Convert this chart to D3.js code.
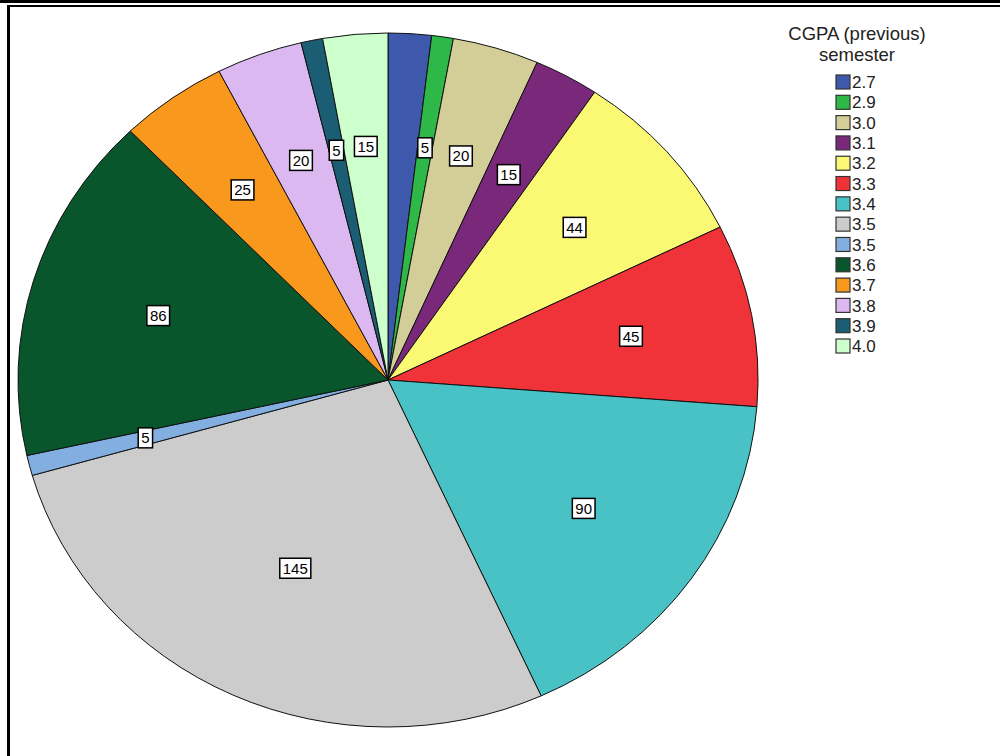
<!DOCTYPE html>
<html>
<head>
<meta charset="utf-8">
<script src="https://cdn.jsdelivr.net/npm/d3@7"></script>
<style>
html,body{margin:0;padding:0;background:#fff;}
svg{display:block;}
</style>
</head>
<body>
<script>
const categories = ["2.7","2.9","3.0","3.1","3.2","3.3","3.4","3.5","3.5","3.6","3.7","3.8","3.9","4.0"];
const counts = [10,5,20,15,44,45,90,145,5,86,25,20,5,15];
const sliceLabels = ["","5","20","15","44","45","90","145","5","86","25","20","5","15"];
const colors = ["#3e58ac","#2eb848","#d3ce97","#79287a","#fbf873","#ef3338","#48c2c5","#cccccc","#82aee0","#0a562c","#f8981d","#dbb9f0","#1b5d72","#ccffcc"];
const legendTitle = ["CGPA (previous)","semester"];

const W = 1000, H = 756;
const svg = d3.select("body").append("svg").attr("width", W).attr("height", H);

// frame
svg.append("rect").attr("x",0).attr("y",0).attr("width",W).attr("height",3).attr("fill","#000");
svg.append("line").attr("x1",7).attr("x2",W).attr("y1",6).attr("y2",6).attr("stroke","#000").attr("stroke-width",2);
svg.append("line").attr("x1",8.5).attr("x2",8.5).attr("y1",5).attr("y2",H).attr("stroke","#000").attr("stroke-width",3);

const cx = 388, cy = 380, rx = 370, ry = 347;
const pie = d3.pie().sort(null).value(d => d);
const arcs = pie(counts);
const arc = d3.arc().innerRadius(0).outerRadius(rx);

const g = svg.append("g").attr("transform", `translate(${cx},${cy}) scale(1,${ry/rx})`);
g.selectAll("path").data(arcs).enter().append("path")
  .attr("d", arc)
  .attr("fill", (d,i) => colors[i])
  .attr("stroke", "#111")
  .attr("stroke-width", 1)
  .attr("vector-effect", "non-scaling-stroke");

// labels at the sector's area centroid
const lg = svg.append("g");
arcs.forEach((d,i) => {
  const t = sliceLabels[i];
  if (!t) return;
  const half = (d.endAngle - d.startAngle) / 2;
  const mid = d.startAngle + half;
  const frac = Math.min(0.7, 2 * Math.sin(half) / (3 * half) + 0.01);
  const x = cx + Math.sin(mid) * rx * frac;
  const y = cy - Math.cos(mid) * ry * frac;
  const tg = lg.append("g").attr("transform", `translate(${x},${y})`);
  const txt = tg.append("text").attr("text-anchor","middle").attr("dy","0.36em")
    .attr("font-family","Arial, 'Liberation Sans', sans-serif").attr("font-size",15).attr("fill","#000").text(t);
  const bb = txt.node().getBBox();
  tg.insert("rect","text").attr("x", bb.x-3).attr("y", -10).attr("width", bb.width+6).attr("height", 20)
    .attr("fill","#fff").attr("stroke","#000").attr("stroke-width",1.5);
});

// legend
const leg = svg.append("g");
legendTitle.forEach((t,i) => {
  leg.append("text").attr("x", 857).attr("y", 40 + i*21).attr("text-anchor","middle")
    .attr("font-family","Arial, 'Liberation Sans', sans-serif").attr("font-size",18.5).attr("fill","#222").text(t);
});
const ly = d3.scalePoint().domain(d3.range(categories.length)).range([82, 346]);
categories.forEach((c,i) => {
  const y = ly(i);
  leg.append("rect").attr("x", 836).attr("y", y-7).attr("width", 14).attr("height", 14)
    .attr("fill", colors[i]).attr("stroke","#333").attr("stroke-width",1.2);
  leg.append("text").attr("x", 852).attr("y", y).attr("dy","0.36em")
    .attr("font-family","Arial, 'Liberation Sans', sans-serif").attr("font-size",17).attr("fill","#222").text(c);
});
</script>
</body>
</html>
